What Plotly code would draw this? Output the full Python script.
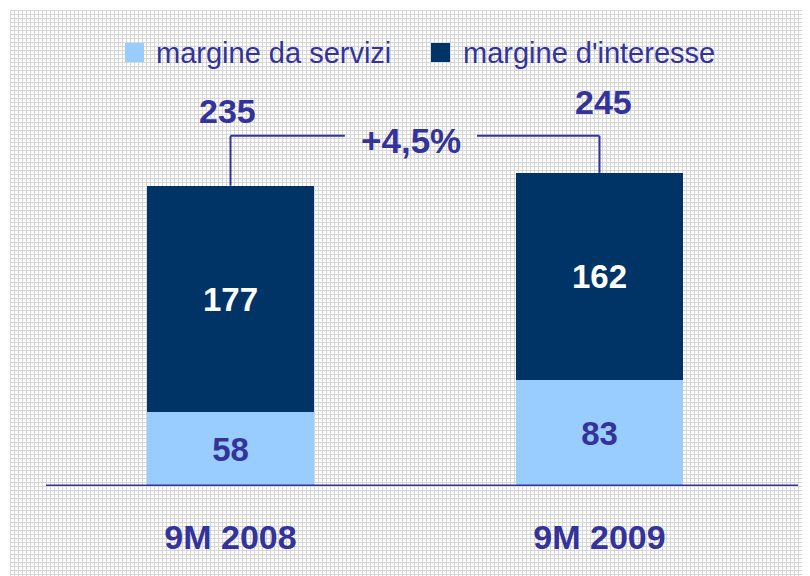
import plotly.graph_objects as go

# ---- data ----
categories = ["9M 2008", "9M 2009"]
margine_servizi = [58, 83]
margine_interesse = [177, 162]
totals = [235, 245]
series_names = ["margine da servizi", "margine d'interesse"]
growth_label = "+4,5%"

# ---- style ----
OFF = 8                 # page body margin in the browser
W, H = 810 - OFF, 576 - OFF
LIGHT = "#99CCFF"
DARK = "#003366"
TXT = "#333399"
FONT = "Liberation Sans, Arial, sans-serif"
BASE_PX = 486           # screen row of the value-0 baseline
SCALE = 1.278           # px per unit
Y_MAX = (BASE_PX - OFF) / SCALE
CAT_PX = [230.5, 599.5]
STEP = CAT_PX[1] - CAT_PX[0]
X_MIN = -(CAT_PX[0] - OFF) / STEP
X_MAX = (810 - CAT_PX[0]) / STEP


def px_x(p):   # screen px -> paper x
    return (p - OFF) / W


def px_y(p):   # screen px -> paper y
    return (576 - p) / H


xpos = list(range(len(categories)))

fig = go.Figure()
fig.add_trace(go.Bar(
    x=xpos, y=margine_servizi, name=series_names[0],
    marker=dict(color=LIGHT, line=dict(width=0)), width=167 / STEP,
    texttemplate="%{y}", textposition="inside", insidetextanchor="middle",
    textangle=0, constraintext="none",
    textfont=dict(family=FONT, size=33, color=TXT, weight="bold"),
    showlegend=False, hoverinfo="skip",
))
fig.add_trace(go.Bar(
    x=xpos, y=margine_interesse, name=series_names[1],
    marker=dict(color=DARK, line=dict(width=0)), width=167 / STEP,
    texttemplate="%{y}", textposition="inside", insidetextanchor="middle",
    textangle=0, constraintext="none",
    textfont=dict(family=FONT, size=33, color="white", weight="bold"),
    showlegend=False, hoverinfo="skip",
))

shapes = []
# background grid pattern (decoration)
segs = []
for p in range(10, 810, 4):
    xp = px_x(p + 0.5)
    segs.append(f"M{xp:.5f},{px_y(10):.5f}L{xp:.5f},0")
for p in range(10, 576, 4):
    yp = px_y(p + 0.5)
    segs.append(f"M{px_x(10):.5f},{yp:.5f}L1,{yp:.5f}")
shapes.append(dict(type="path", xref="paper", yref="paper", path="".join(segs),
                   line=dict(color="#D6D6D6", width=1), layer="below"))

# baseline
shapes.append(dict(type="line", xref="paper", yref="y", x0=px_x(46), x1=px_x(798),
                   y0=0, y1=0, line=dict(color=TXT, width=3)))

# growth bracket
BR_Y = 274
shapes.append(dict(type="line", xref="x", yref="y", x0=0, x1=0, y0=totals[0], y1=BR_Y,
                   line=dict(color=TXT, width=2)))
shapes.append(dict(type="line", xref="x", yref="y", x0=0, x1=0.31, y0=BR_Y, y1=BR_Y,
                   line=dict(color=TXT, width=2)))
shapes.append(dict(type="line", xref="x", yref="y", x0=0.668, x1=1, y0=BR_Y, y1=BR_Y,
                   line=dict(color=TXT, width=2)))
shapes.append(dict(type="line", xref="x", yref="y", x0=1, x1=1, y0=BR_Y, y1=totals[1],
                   line=dict(color=TXT, width=2)))

# legend squares
for (x0, col) in [(125, LIGHT), (431, DARK)]:
    shapes.append(dict(type="rect", xref="paper", yref="paper",
                       x0=px_x(x0), x1=px_x(x0 + 19), y0=px_y(62), y1=px_y(43),
                       fillcolor=col, line=dict(width=0)))

annotations = []
# legend texts
for (x0, name) in [(154, series_names[0]), (461, series_names[1])]:
    annotations.append(dict(xref="paper", yref="paper", x=px_x(x0), y=px_y(53),
                            xanchor="left", yanchor="middle", text=name, showarrow=False,
                            font=dict(family=FONT, size=29, color=TXT)))
# totals
for i, (t, xs, ys) in enumerate(zip(totals, [-3, 4], [75, 71])):
    annotations.append(dict(x=xpos[i], y=t, xref="x", yref="y", text=str(t),
                            showarrow=False, yanchor="middle", xshift=xs, yshift=ys,
                            font=dict(family=FONT, size=34, color=TXT, weight="bold")))
# growth label
annotations.append(dict(x=0.489, y=270, xref="x", yref="y", text=growth_label,
                        showarrow=False, font=dict(family=FONT, size=35, color=TXT, weight="bold")))

fig.update_layout(
    template="none",
    width=W, height=H,
    margin=dict(l=0, r=0, t=0, b=0, pad=0),
    paper_bgcolor="white",
    plot_bgcolor="rgba(0,0,0,0)",
    barmode="stack",
    bargap=0,
    showlegend=False,
    shapes=shapes,
    annotations=annotations,
    xaxis=dict(domain=[0, 1], range=[X_MIN, X_MAX], tickvals=xpos, ticktext=categories,
               showgrid=False, zeroline=False, showline=False, ticks="",
               ticklabelstandoff=28, automargin=False, fixedrange=True,
               tickfont=dict(family=FONT, size=34, color=TXT, weight="bold")),
    yaxis=dict(domain=[px_y(BASE_PX), 1], range=[0, Y_MAX], showgrid=False,
               zeroline=False, showline=False, showticklabels=False, ticks="",
               automargin=False, fixedrange=True),
)

fig.write_html("out.html")
